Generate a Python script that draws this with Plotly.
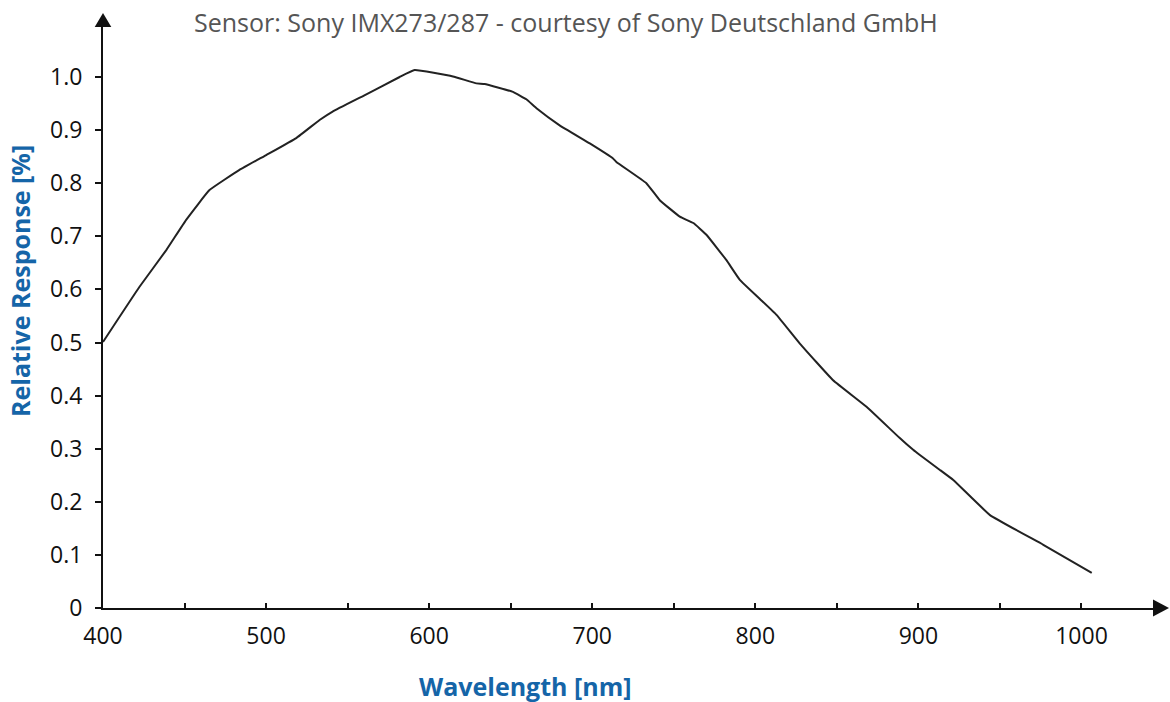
import plotly.graph_objects as go

# Data
wavelength = [400, 422.4, 438.8, 451, 465.3, 483.7, 500.1, 518.5, 532.8, 540.8,
              560, 581.9, 591.1, 614.6, 629, 634, 651.4, 659.6, 665.8, 680,
              698.5, 712.6, 714.8, 733.2, 741.4, 753.7, 762, 770, 782.3, 790.5, 802.8,
              813, 827.3, 847.7, 868.2, 888.6, 896.8, 900.9, 913.2, 921.4,
              943.9, 976.6, 1006.3]
response = [0.501, 0.605, 0.674, 0.731, 0.787, 0.825, 0.853, 0.885, 0.919, 0.935,
            0.965, 1.0, 1.013, 1.001, 0.988, 0.987, 0.972, 0.958, 0.941, 0.909,
            0.875, 0.847, 0.840, 0.800, 0.768, 0.737, 0.725, 0.703, 0.655, 0.618, 0.582,
            0.552, 0.498, 0.429, 0.379, 0.320, 0.298, 0.288, 0.260, 0.241,
            0.175, 0.119, 0.066]

y_tickvals = [0, 0.1, 0.2, 0.3, 0.4, 0.5, 0.6, 0.7, 0.8, 0.9, 1.0]
y_ticktext = ["0", "0.1", "0.2", "0.3", "0.4", "0.5", "0.6", "0.7", "0.8", "0.9", "1.0"]
x_tickvals = [400, 500, 600, 700, 800, 900, 1000]
x_ticktext = ["400", "500", "600", "700", "800", "900", "1000"]

title_text = "Sensor: Sony IMX273/287 - courtesy of Sony Deutschland GmbH"
x_title = "Wavelength [nm]"
y_title = "Relative Response [%]"

FONT = "Open Sans"
BLUE = "#1565a8"
AX = "#111111"

fig = go.Figure()
fig.add_trace(go.Scatter(x=wavelength, y=response, mode="lines",
                         line=dict(color="#222222", width=2, shape="spline", smoothing=0.3),
                         hoverinfo="x+y", showlegend=False))

W, H = 1170, 702
L, R, T, B = 103, 17, 27, 94
pw, ph = W - L - R, H - T - B

fig.update_layout(
    width=W, height=H,
    margin=dict(l=L, r=R, t=T, b=B),
    paper_bgcolor="white", plot_bgcolor="white",
    font=dict(family=FONT, color="#111111"),
    xaxis=dict(range=[400, 400 + (1153 - 103.5) / 1.63], showgrid=False, zeroline=False,
               showline=True, linecolor=AX, linewidth=2,
               tickmode="array", tickvals=x_tickvals, ticktext=x_ticktext,
               ticks="inside", ticklen=5, tickwidth=1.5, tickcolor=AX,
               minor=dict(dtick=50, tick0=400, ticks="inside", ticklen=5, tickwidth=1.5, tickcolor=AX),
               tickfont=dict(size=23, family=FONT, color="#111111"),
               ticklabelstandoff=6),
    yaxis=dict(range=[0, (608 - 27) / 531], showgrid=False, zeroline=False,
               showline=True, linecolor=AX, linewidth=2,
               tickmode="array", tickvals=y_tickvals, ticktext=y_ticktext,
               ticks="outside", ticklen=6, tickwidth=1.5, tickcolor=AX,
               tickfont=dict(size=23, family=FONT, color="#111111"),
               ticklabelstandoff=8),
)

# Axis arrowheads (paper coordinates)
tip_x = (1169 - L) / pw
hh = 8.5 / ph
fig.add_shape(type="path", xref="paper", yref="paper",
              path=f"M 1.0 {hh} L {tip_x} 0 L 1.0 {-hh} Z",
              fillcolor=AX, line=dict(color=AX, width=0))
tip_y = (608 - 13) / ph
hw = 8.3 / pw
fig.add_shape(type="path", xref="paper", yref="paper",
              path=f"M {-hw} 1.0 L 0 {tip_y} L {hw} 1.0 Z",
              fillcolor=AX, line=dict(color=AX, width=0))

# Titles
fig.add_annotation(text=title_text, xref="paper", yref="paper",
                   x=(566 - L) / pw, y=(608 - 22) / ph, showarrow=False,
                   xanchor="center", yanchor="middle",
                   font=dict(size=25, family=FONT, color="#555555"))
fig.add_annotation(text=f"<b>{x_title}</b>", xref="paper", yref="paper",
                   x=(525 - L) / pw, y=(608 - 686) / ph, showarrow=False,
                   xanchor="center", yanchor="middle",
                   font=dict(size=25, family=FONT, color=BLUE))
fig.add_annotation(text=f"<b>{y_title}</b>", xref="paper", yref="paper",
                   x=(20 - L) / pw, y=(608 - 281) / ph, showarrow=False,
                   xanchor="center", yanchor="middle", textangle=-90,
                   font=dict(size=25, family=FONT, color=BLUE))

fig.write_html("out.html", config={"displayModeBar": False},
               post_script="document.body.style.margin='0';document.body.style.overflow='hidden';")
